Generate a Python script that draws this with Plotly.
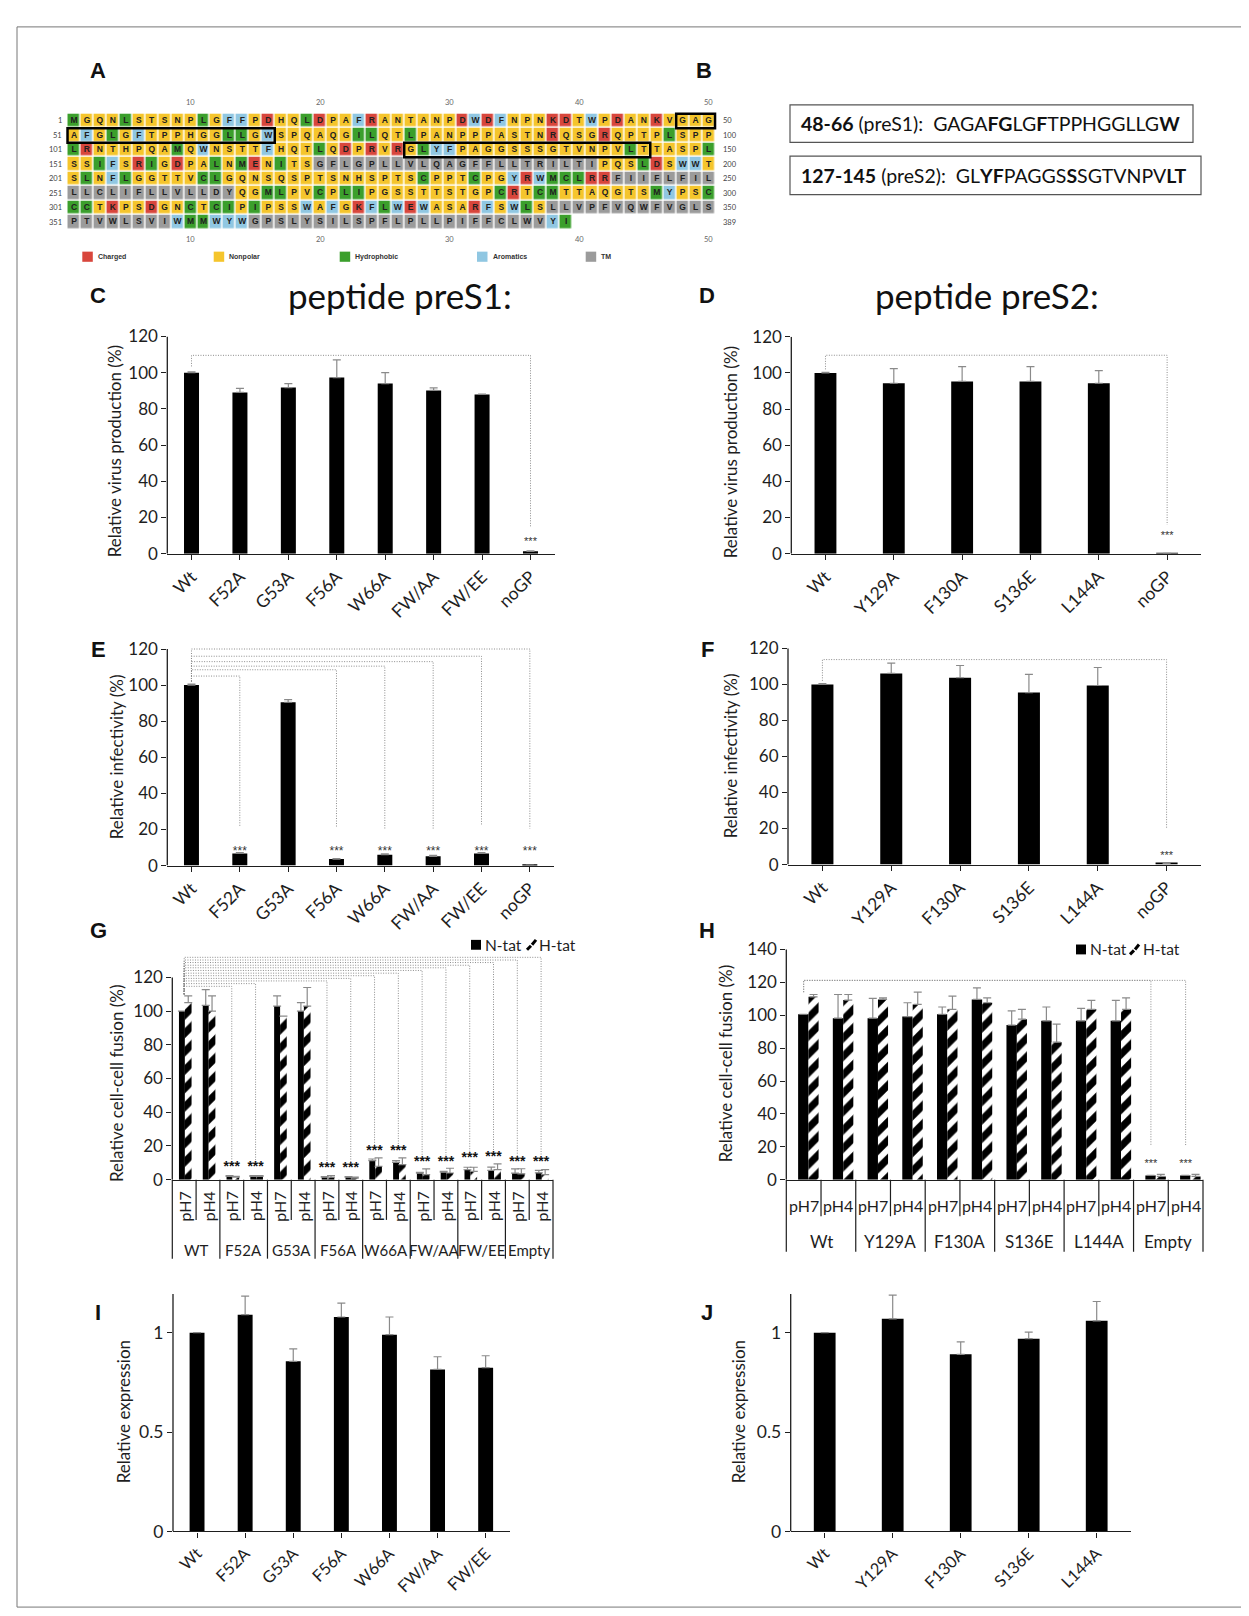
import plotly.graph_objects as go

W, H = 1249, 1616
FONT = "Lato, 'Open Sans', sans-serif"
BOLD = "'Liberation Sans', Arial, sans-serif"
INK = "#1e1e1e"
ERR = "#8a8a8a"
DOT = "#8c8c8c"

# ---------------- Panel A data ----------------
SEQUENCE = ("MGQNLSTSNPLGFFPDHQLDPAFRANTANPDWDFNPNKDTWPDANKVGAG"
            "AFGLGFTPPHGGLLGWSPQAQGILQTLPANPPPASTNRQSGRQPTPLSPP"
            "LRNTHPQAMQWNSTTFHQTLQDPRVRGLYFPAGGSSSGTVNPVLTTASPL"
            "SSIFSRIGDPALNMENITSGFLGPLLVLQAGFFLLTRILTIPQSLDSWWT"
            "SLNFLGGTTVCLGQNSQSPTSNHSPTSCPPTCPGYRWMCLRRFIIFLFIL"
            "LLCLIFLLVLLDYQGMLPVCPLIPGSSTTSTGPCRTCMTTAQGTSMYPSC"
            "CCTKPSDGNCTCIPIPSSWAFGKFLWEWASARFSWLSLLVPFVQWFVGLS"
            "PTVWLSVIWMMWYWGPSLYSILSPFLPLLPIFFCLWVYI")
ROW_LENGTH = 50
TM_REGIONS = [(170, 191), (243, 263), (338, 358), (365, 387)]
PEPTIDE_BOXES = [(48, 66), (127, 145)]
CLASS_NAMES = ["Charged", "Nonpolar", "Hydrophobic", "Aromatics", "TM"]
CLASS_COLORS = ["#d8463c", "#f5c52c", "#3b9f2c", "#90c7e2", "#9b9b9b"]
CHARGED, HYDROPHOBIC, AROMATIC = "DEKR", "LIMC", "FWY"
COLUMN_TICKS = [10, 20, 30, 40, 50]

# ---------------- Panel B data ----------------
PEPTIDE_TEXTS = ["<b>48-66</b> (preS1):  GAGA<b>FG</b>LG<b>F</b>TPPHGGLLG<b>W</b>",
                 "<b>127-145</b> (preS2):  GL<b>YF</b>PAGGS<b>S</b>SGTVNPV<b>LT</b>"]

# ---------------- Bar data ----------------
C_CATS = ["Wt", "F52A", "G53A", "F56A", "W66A", "FW/AA", "FW/EE", "noGP"]
C_VALS = [100, 89.1, 91.8, 97.3, 94.0, 90.2, 88.0, 1.3]
C_ERRS = [0.5, 2.2, 2.2, 9.8, 6.0, 1.4, 0.2, 0.3]

D_CATS = ["Wt", "Y129A", "F130A", "S136E", "L144A", "noGP"]
D_VALS = [100, 94.3, 95.3, 95.3, 94.3, 0.2]
D_ERRS = [0.3, 8.1, 8.2, 8.2, 7.0, 0.0]

E_CATS = ["Wt", "F52A", "G53A", "F56A", "W66A", "FW/AA", "FW/EE", "noGP"]
E_VALS = [100, 6.7, 90.5, 3.6, 6.0, 5.1, 6.7, 0.2]
E_ERRS = [0.5, 0.5, 1.5, 0.3, 0.5, 0.5, 0.5, 0.0]

F_CATS = ["Wt", "Y129A", "F130A", "S136E", "L144A", "noGP"]
F_VALS = [100, 106.1, 103.7, 95.5, 99.4, 0.6]
F_ERRS = [0.5, 5.7, 6.8, 10.1, 10.0, 0.3]

PH_LABELS = ["pH7", "pH4"]
G_GROUPS = ["WT", "F52A", "G53A", "F56A", "W66A", "FW/AA", "FW/EE", "Empty"]
G_NTAT = [100, 103.4, 2, 2, 103, 100, 1.5, 1.5, 11.3, 10.3, 3.9, 4.5, 5.9, 5.5, 3.9, 4.1]
G_NTAT_ERR = [0, 9.4, 0.5, 0.5, 6, 5, 0.3, 0.3, 1, 1, 0.5, 0.5, 1.5, 2, 2.5, 1.5]
G_HTAT = [105, 100, 1.5, 2, 97, 103, 1.5, 1, 8, 9, 3, 4, 5, 6, 3.5, 3]
G_HTAT_ERR = [4, 9, 0.5, 0.5, 0, 11, 1, 0.5, 5, 4, 3.4, 2.8, 2.4, 3.4, 3, 3]

H_GROUPS = ["Wt", "Y129A", "F130A", "S136E", "L144A", "Empty"]
H_NTAT = [100.6, 98.2, 98.2, 99.2, 100.6, 109.6, 94.0, 96.6, 96.6, 96.6, 2.6, 2.6]
H_NTAT_ERR = [0, 14.4, 12, 8.4, 4.4, 7, 8.6, 8.4, 7.6, 12.4, 0, 0]
H_HTAT = [111.2, 109.2, 109.6, 106.6, 103.6, 107.6, 97.6, 83.6, 103.6, 103.6, 2, 2]
H_HTAT_ERR = [1.4, 3.4, 1, 7.4, 8, 3, 6, 11, 5.4, 7, 1.2, 1.2]

I_CATS = ["Wt", "F52A", "G53A", "F56A", "W66A", "FW/AA", "FW/EE"]
I_VALS = [1.0, 1.091, 0.856, 1.079, 0.990, 0.815, 0.824]
I_ERRS = [0, 0.093, 0.063, 0.070, 0.089, 0.064, 0.060]

J_CATS = ["Wt", "Y129A", "F130A", "S136E", "L144A"]
J_VALS = [1.0, 1.070, 0.891, 0.970, 1.060]
J_ERRS = [0, 0.119, 0.063, 0.033, 0.097]

# significance brackets: origin level, target, top level, lower end, star level
C_BRACKETS = dict(start=103.5, targets=["noGP"], levels=[109.6], ends=[14.5], stars=[6.5])
D_BRACKETS = dict(start=102, targets=["noGP"], levels=[109.8], ends=[16], stars=[9.5])
E_BRACKETS = dict(start=102, targets=["F52A", "F56A", "W66A", "FW/AA", "FW/EE", "noGP"],
                  levels=[105, 108.5, 110.5, 113, 116, 120], ends=[21.5, 21, 20.5, 20.5, 22, 20.5],
                  stars=[7.5, 7.5, 7.5, 7.5, 7.5, 7.5])
F_BRACKETS = dict(start=102, targets=["noGP"], levels=[113.8], ends=[20], stars=[4.6])
G_BRACKETS = dict(start=110, targets=[2, 3, 6, 7, 8, 9, 10, 11, 12, 13, 14, 15],
                  levels=[114.7, 116.3, 117.9, 119.4, 121, 122.5, 124.1, 125.7, 127.2, 128.8, 130.3, 131.9],
                  stars=[7.4, 7.4, 6.4, 6.4, 16.6, 16.6, 10, 10, 12.3, 13.3, 10, 10])
H_BRACKETS = dict(start=114, targets=[10, 11], levels=[121.2, 121.2], ends=[20.6, 20.6], stars=[9.6, 9.6])


def xdom(a, b):
    return [a / W, b / W]


def ydom(top, bottom):
    return [1 - bottom / H, 1 - top / H]


def PX(p):
    return p / W


def PY(p):
    return 1 - p / H


fig = go.Figure()
layout = dict(width=W, height=H, margin=dict(l=0, r=0, t=0, b=0),
              paper_bgcolor="white", plot_bgcolor="white", showlegend=False,
              barmode="overlay", font=dict(family=FONT, color=INK))
annotations = []
shapes = []


def ann(x, y, text, size, xref="paper", yref="paper", xanchor="center", yanchor="middle",
        family=FONT, color=INK, angle=0):
    annotations.append(dict(x=x, y=y, xref=xref, yref=yref, text=text, showarrow=False,
                            xanchor=xanchor, yanchor=yanchor, textangle=angle, borderpad=0,
                            font=dict(family=family, size=size, color=color)))


# frame
shapes.append(dict(type="rect", xref="paper", yref="paper", x0=PX(9), x1=PX(1242),
                   y0=PY(1609), y1=PY(8), line=dict(color="#777", width=1)))

# ---------------- Panel A ----------------
n_rows = (len(SEQUENCE) + ROW_LENGTH - 1) // ROW_LENGTH


def residue_class(i, aa):
    for a, b in TM_REGIONS:
        if a <= i <= b:
            return 4
    if aa in CHARGED:
        return 0
    if aa in HYDROPHOBIC:
        return 2
    if aa in AROMATIC:
        return 3
    return 1


z = [[None] * ROW_LENGTH for _ in range(n_rows)]
lx, ly, lt = [], [], []
for i, aa in enumerate(SEQUENCE, start=1):
    r, c = divmod(i - 1, ROW_LENGTH)
    z[r][c] = residue_class(i, aa)
    lx.append(c + 1)
    ly.append(r + 1)
    lt.append(aa)
nc = len(CLASS_COLORS)
scale = []
for k, col in enumerate(CLASS_COLORS):
    scale += [[k / nc, col], [(k + 1) / nc, col]]
fig.add_trace(go.Heatmap(z=z, x=list(range(1, ROW_LENGTH + 1)), y=list(range(1, n_rows + 1)),
                         colorscale=scale, zmin=-0.5, zmax=nc - 0.5, showscale=False,
                         xgap=1.5, ygap=1.5, hoverinfo="skip", xaxis="x", yaxis="y"))
fig.add_trace(go.Scatter(x=lx, y=ly, text=lt, mode="text", hoverinfo="skip",
                         textfont=dict(family=BOLD, size=8.5, color="#202020", weight="bold"),
                         xaxis="x", yaxis="y"))
col_sp, row_sp = 12.95, 14.67
layout["xaxis"] = dict(domain=xdom(66 - 0.7 * col_sp, 66 + (ROW_LENGTH - 0.3) * col_sp),
                       range=[0.3, ROW_LENGTH + 0.7], visible=False, anchor="y")
layout["yaxis"] = dict(domain=ydom(103.3 - 0.7 * row_sp, 103.3 + (n_rows - 0.3) * row_sp),
                       range=[n_rows + 0.7, 0.3], visible=False, anchor="x")
for r in range(n_rows):
    ann(PX(55), r + 1, str(r * ROW_LENGTH + 1), 7.5, yref="y", xanchor="right", color="#444")
    ann(PX(714), r + 1, str(min((r + 1) * ROW_LENGTH, len(SEQUENCE))), 7.5, yref="y",
        xanchor="left", color="#444")
for c in COLUMN_TICKS:
    ann(c, PY(85), str(c), 7.5, xref="x", color="#666")
    ann(c, PY(223), str(c), 7.5, xref="x", color="#666")
for a, b in PEPTIDE_BOXES:
    for r in range((a - 1) // ROW_LENGTH, (b - 1) // ROW_LENGTH + 1):
        c0 = max(a, r * ROW_LENGTH + 1) - r * ROW_LENGTH
        c1 = min(b, (r + 1) * ROW_LENGTH) - r * ROW_LENGTH
        shapes.append(dict(type="rect", xref="x", yref="y", x0=c0 - 0.5, x1=c1 + 0.5,
                           y0=r + 0.5, y1=r + 1.5, line=dict(color="black", width=2.5)))
LEGEND_X = [74.3, 205.7, 331.7, 469.0, 577.7]
for name, col, x0 in zip(CLASS_NAMES, CLASS_COLORS, LEGEND_X):
    shapes.append(dict(type="rect", xref="paper", yref="paper", x0=PX(x0), x1=PX(x0 + 10.5),
                       y0=PY(246), y1=PY(235.7), fillcolor=col, line=dict(width=0)))
    ann(PX(x0 + 14.5), PY(241), "<b>" + name + "</b>", 7, xanchor="left", family=BOLD, color="#333")

# ---------------- Panel B ----------------
B_BOXES = [(782, 87, 1185, 125), (782, 139, 1193, 178)]
for (x0, y0, x1, y1), txt in zip(B_BOXES, PEPTIDE_TEXTS):
    shapes.append(dict(type="rect", xref="paper", yref="paper", x0=PX(x0), x1=PX(x1),
                       y0=PY(y1), y1=PY(y0), line=dict(color="#555", width=1.2)))
    ann(PX(x0 + 10), PY((y0 + y1) / 2), txt, 19.5, xanchor="left", color="#111")

# panel letters and titles
for letter, (x, y) in zip("ABCDEFGHIJ", [(90, 52), (696, 52), (90, 280), (699, 280), (90, 639),
                                          (699, 639), (90, 923), (699, 923), (90, 1311), (699, 1311)]):
    ann(PX(x), PY(y), "<b>" + letter + "</b>", 22, family=BOLD, color="#111")
ann(PX(392), PY(280), "peptide preS1:", 35, color="#111")
ann(PX(979), PY(280), "peptide preS2:", 35, color="#111")


# ---------------- bar panel helpers ----------------
def yaxis_cfg(k, y0px, unit_px, ymax, tickvals, ticktext, tsize):
    top = y0px - ymax * unit_px
    layout[f"yaxis{k}"] = dict(domain=ydom(top, y0px), anchor=f"x{k}", range=[0, ymax],
                               showline=False, ticks="outside", ticklen=5, tickcolor=INK,
                               tickwidth=1.2, tickvals=tickvals, ticktext=ticktext,
                               tickfont=dict(size=tsize, color=INK), showgrid=False,
                               zeroline=False)


def yline(k, top):
    shapes.append(dict(type="line", xref=f"x{k} domain", x0=0, x1=0, yref=f"y{k}",
                       y0=0, y1=top, line=dict(color=INK, width=1.3)))


def err(arr):
    return dict(type="data", array=arr, arrayminus=[0] * len(arr), symmetric=False,
                color=ERR, thickness=1.2, width=4)


def simple_panel(k, cats, vals, errs, xpx, y0px, unit_px, ymax, axis_top, tickvals, ticktext,
                 bar_w, tsize, xtsize):
    fig.add_trace(go.Bar(x=cats, y=vals, width=bar_w, marker=dict(color="black", line=dict(width=0)),
                         error_y=err(errs), xaxis=f"x{k}", yaxis=f"y{k}", hoverinfo="skip"))
    layout[f"xaxis{k}"] = dict(domain=xdom(*xpx), anchor=f"y{k}", type="category",
                               range=[-0.5, len(cats) - 0.5], showline=True, linecolor=INK,
                               linewidth=1.3, ticks="outside", ticklen=5, tickcolor=INK,
                               tickwidth=1.2, tickangle=-45,
                               tickfont=dict(size=xtsize, color=INK), showgrid=False,
                               zeroline=False)
    yaxis_cfg(k, y0px, unit_px, ymax, tickvals, ticktext, tsize)
    yline(k, axis_top)


def brackets(k, origin, spec, ends, star_size, star_color, star_weight="normal"):
    xs, ys = [], []
    for t, lv, e in zip(spec["targets"], spec["levels"], ends):
        xs += [origin, origin, t, t, None]
        ys += [spec["start"], lv, lv, e, None]
    fig.add_trace(go.Scatter(x=xs, y=ys, mode="lines", hoverinfo="skip",
                             line=dict(color=DOT, width=1, dash="1px,1.5px"),
                             xaxis=f"x{k}", yaxis=f"y{k}"))
    fig.add_trace(go.Scatter(x=spec["targets"], y=spec["stars"], mode="text",
                             text=["***"] * len(spec["targets"]), cliponaxis=False,
                             hoverinfo="skip",
                             textfont=dict(family=BOLD, size=star_size, color=star_color,
                                           weight=star_weight),
                             xaxis=f"x{k}", yaxis=f"y{k}"))


def grouped_panel(k, groups, ntat, nerr, htat, herr, xpx, y0px, unit_px, ymax, axis_top,
                  tickvals, n_off, n_w, h_off, h_w, ph_y, grp_y, short_px, long_px, ph_angle,
                  grp_size):
    n = len(ntat)
    xs = list(range(n))
    fig.add_trace(go.Bar(x=xs, y=ntat, offset=n_off, width=n_w,
                         marker=dict(color="black", line=dict(width=0)), error_y=err(nerr),
                         xaxis=f"x{k}", yaxis=f"y{k}", hoverinfo="skip"))
    fig.add_trace(go.Bar(x=xs, y=htat, offset=h_off, width=h_w,
                         marker=dict(color="white", line=dict(width=0),
                                     pattern=dict(shape="/", fgcolor="black", bgcolor="white",
                                                  fgopacity=1, size=13, solidity=0.55)),
                         error_y=err(herr), xaxis=f"x{k}", yaxis=f"y{k}", hoverinfo="skip"))
    layout[f"xaxis{k}"] = dict(domain=xdom(*xpx), anchor=f"y{k}", range=[-0.5, n - 0.5],
                               showline=True, linecolor=INK, linewidth=1.3, ticks="",
                               showticklabels=False, showgrid=False, zeroline=False)
    yaxis_cfg(k, y0px, unit_px, ymax, tickvals, [str(v) for v in tickvals], 17)
    yline(k, axis_top)
    npg = len(PH_LABELS)
    for i in xs:
        ann(i, PY(ph_y), PH_LABELS[i % npg], 16, xref=f"x{k}", angle=ph_angle)
    for g, name in enumerate(groups):
        ann(g * npg + (npg - 1) / 2, PY(grp_y), name, grp_size, xref=f"x{k}")
    for b in range(n + 1):
        bottom = long_px if b % npg == 0 else short_px
        shapes.append(dict(type="line", xref=f"x{k} domain", x0=b / n, x1=b / n,
                           yref="paper", y0=PY(y0px), y1=PY(bottom),
                           line=dict(color=INK, width=1.2)))


TICKS120 = list(range(0, 121, 20))
TITLE_SIZE = 17
# C
simple_panel(2, C_CATS, C_VALS, C_ERRS, (159.3, 546.7), 541.7, 220 / 120, 120, 120,
             TICKS120, [str(v) for v in TICKS120], 0.31, 17, 17.5)
brackets(2, C_CATS[0], C_BRACKETS, C_BRACKETS["ends"], 11, "#333")
ann(PX(106), PY(438), "Relative virus production (%)", TITLE_SIZE, angle=-90)
# D
simple_panel(3, D_CATS, D_VALS, D_ERRS, (783.3, 1193.3), 541.7, 219.7 / 120, 120, 120,
             TICKS120, [str(v) for v in TICKS120], 0.32, 17, 17.5)
brackets(3, D_CATS[0], D_BRACKETS, D_BRACKETS["ends"], 11, "#333")
ann(PX(722), PY(439), "Relative virus production (%)", TITLE_SIZE, angle=-90)
# E
simple_panel(4, E_CATS, E_VALS, E_ERRS, (159.3, 546), 857.7, 219.4 / 120, 121, 120,
             TICKS120, [str(v) for v in TICKS120], 0.31, 17, 17.5)
brackets(4, E_CATS[0], E_BRACKETS, E_BRACKETS["ends"], 12, "#333")
ann(PX(108), PY(748), "Relative infectivity (%)", TITLE_SIZE, angle=-90)
# F
simple_panel(5, F_CATS, F_VALS, F_ERRS, (780, 1193), 856.7, 219 / 120, 121, 120,
             TICKS120, [str(v) for v in TICKS120], 0.32, 17, 17.5)
brackets(5, F_CATS[0], F_BRACKETS, F_BRACKETS["ends"], 11, "#333")
ann(PX(722), PY(747), "Relative infectivity (%)", TITLE_SIZE, angle=-90)
# G
grouped_panel(6, G_GROUPS, G_NTAT, G_NTAT_ERR, G_HTAT, G_HTAT_ERR, (164.3, 545), 1176,
              205 / 120, 134, 120, TICKS120, -0.22, 0.25, 0.03, 0.28,
              1203, 1247, 1216.7, 1256, -90, 15)
brackets(6, 0, G_BRACKETS, [s + 4 for s in G_BRACKETS["stars"]], 14, "#111", "bold")
ann(PX(109), PY(1079), "Relative cell-cell fusion (%)", TITLE_SIZE, angle=-90)
# H
grouped_panel(7, H_GROUPS, H_NTAT, H_NTAT_ERR, H_HTAT, H_HTAT_ERR, (778.3, 1195), 1176,
              233.3 / 140, 141, 140, list(range(0, 141, 20)), -0.16, 0.30, 0.14, 0.29,
              1201.7, 1238.3, 1213, 1249, 0, 17)
brackets(7, 0, H_BRACKETS, H_BRACKETS["ends"], 11, "#333")
ann(PX(717), PY(1059), "Relative cell-cell fusion (%)", TITLE_SIZE, angle=-90)
# I
simple_panel(8, I_CATS, I_VALS, I_ERRS, (165, 501.7), 1532.3, 201.3, 1.2, 1.195,
             [0, 0.5, 1], ["0", "0.5", "1"], 0.31, 17.5, 16.5)
ann(PX(115), PY(1411.7), "Relative expression", TITLE_SIZE, angle=-90)
# J
simple_panel(9, J_CATS, J_VALS, J_ERRS, (782.7, 1122.7), 1532.3, 201.3, 1.2, 1.195,
             [0, 0.5, 1], ["0", "0.5", "1"], 0.32, 17.5, 16.5)
ann(PX(730), PY(1411.7), "Relative expression", TITLE_SIZE, angle=-90)

# fusion legends (G and H)
for sq_x, nt_x, hx, ht_x, yc in [(463, 476, 519, 530, 938), (1068, 1081, 1122, 1134, 942.7)]:
    shapes.append(dict(type="rect", xref="paper", yref="paper", x0=PX(sq_x), x1=PX(sq_x + 10),
                       y0=PY(yc + 5), y1=PY(yc - 5), fillcolor="black", line=dict(width=0)))
    ann(PX(nt_x), PY(yc), "N-tat", 15.5, xanchor="left")
    for (a, b, c, d) in [(hx, yc + 5, hx + 4, yc + 1), (hx + 5, yc, hx + 9, yc - 5)]:
        shapes.append(dict(type="line", xref="paper", yref="paper", x0=PX(a), y0=PY(b),
                           x1=PX(c), y1=PY(d), line=dict(color="black", width=3)))
    ann(PX(ht_x), PY(yc), "H-tat", 15.5, xanchor="left")

layout["annotations"] = annotations
layout["shapes"] = shapes
fig.update_layout(**layout)
fig.write_html("out.html")
